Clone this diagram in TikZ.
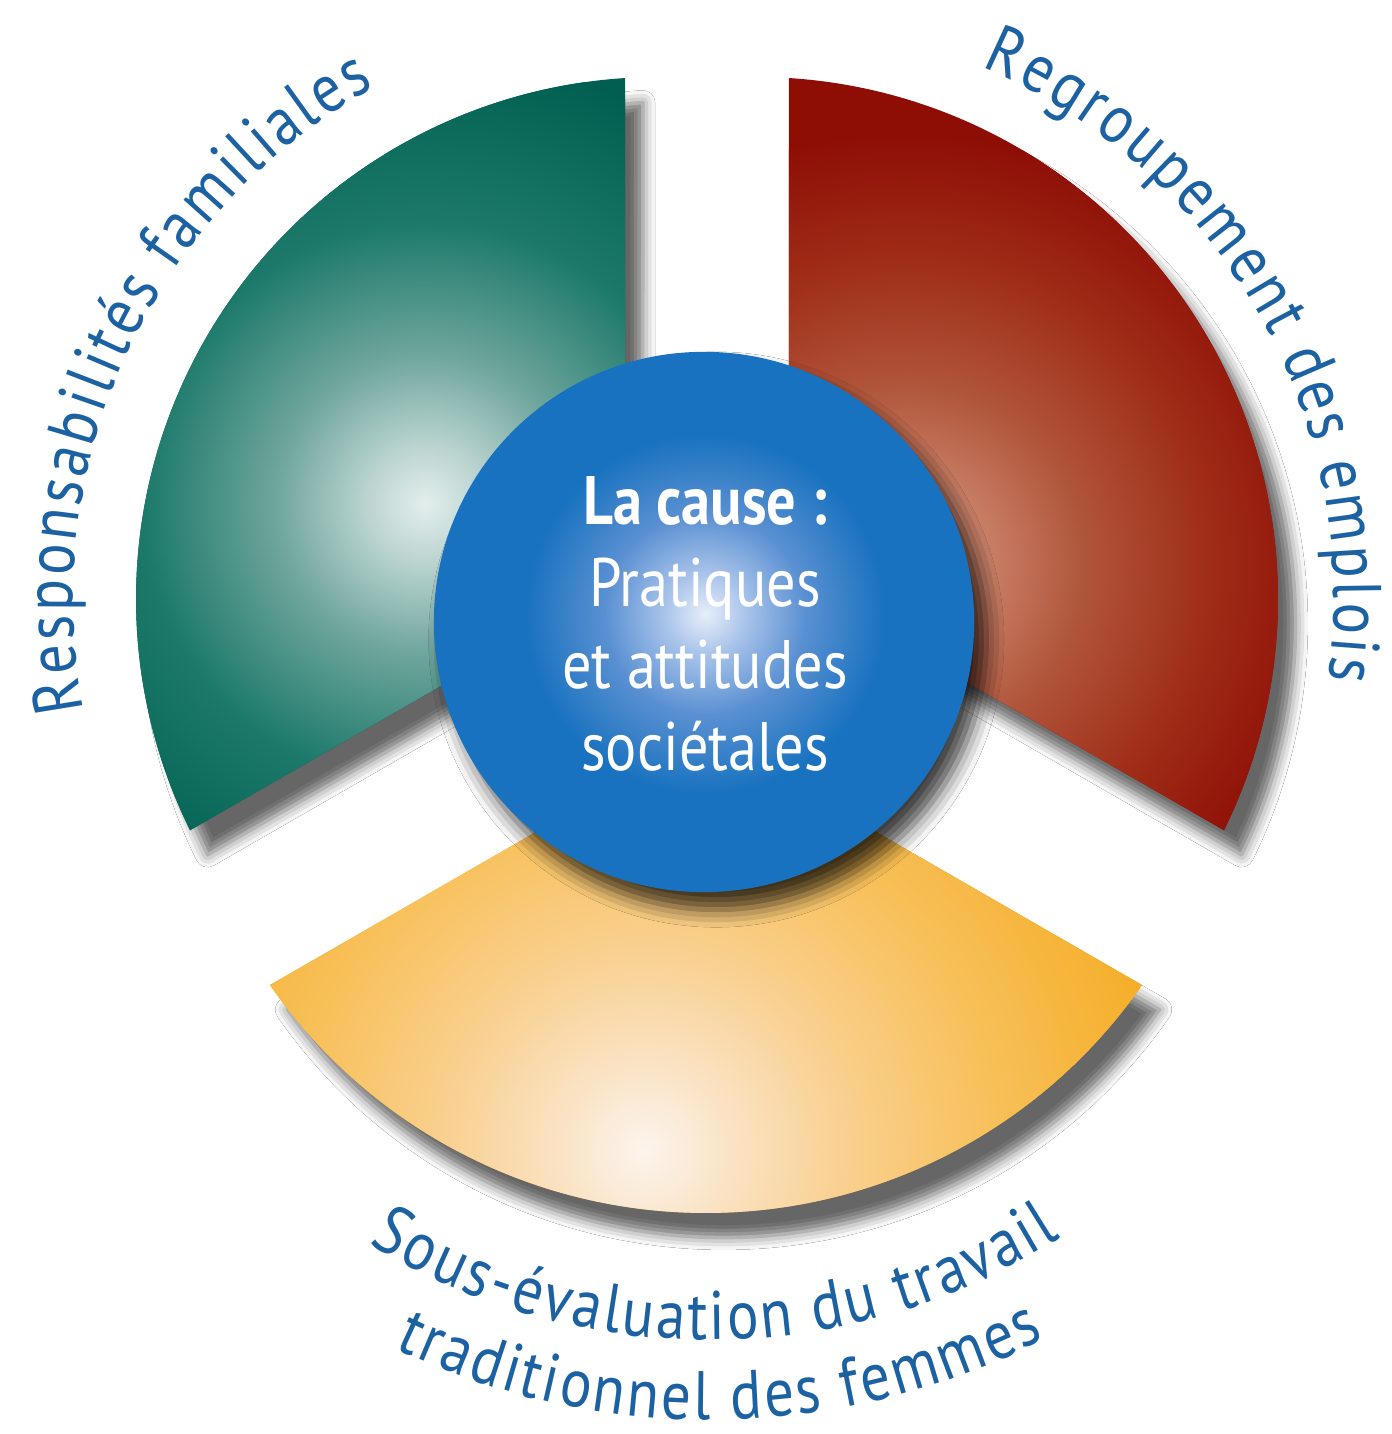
\documentclass[tikz,border=0pt]{standalone}
\usepackage{fontspec}
\usetikzlibrary{decorations.text,shadows.blur}
\newfontfamily\labelfont[FakeStretch=0.86]{PT Sans}
\newfontfamily\causefont[FakeStretch=0.85]{PT Sans}

\definecolor{labelblue}{RGB}{28,98,162}
\definecolor{gLight}{RGB}{227,238,236}
\definecolor{gPale}{RGB}{185,211,207}
\definecolor{gMid}{RGB}{110,165,156}
\definecolor{gDeep}{RGB}{29,122,107}
\definecolor{gDark}{RGB}{0,95,80}
\definecolor{rLight}{RGB}{219,167,146}
\definecolor{rPale}{RGB}{201,128,104}
\definecolor{rMid}{RGB}{176,85,58}
\definecolor{rDeep}{RGB}{160,46,24}
\definecolor{rDark}{RGB}{142,14,6}
\definecolor{yLight}{RGB}{252,244,238}
\definecolor{yPale}{RGB}{250,226,194}
\definecolor{yMid}{RGB}{249,208,144}
\definecolor{yDeep}{RGB}{248,194,96}
\definecolor{yDark}{RGB}{245,174,40}
\definecolor{bLight}{RGB}{232,238,250}
\definecolor{bPale}{RGB}{169,196,234}
\definecolor{bMid}{RGB}{90,144,210}
\definecolor{bBase}{RGB}{24,114,191}

% 50bp = reach of the glow
\pgfdeclareradialshading{greenglow}{\pgfpointorigin}{color(0bp)=(gLight); color(6.7bp)=(gPale); color(16.7bp)=(gMid); color(31.1bp)=(gDeep); color(50bp)=(gDark)}
\pgfdeclareradialshading{redglow}{\pgfpointorigin}{color(0bp)=(rLight); color(9.3bp)=(rPale); color(20.9bp)=(rMid); color(34.9bp)=(rDeep); color(50bp)=(rDark)}
\pgfdeclareradialshading{yellowglow}{\pgfpointorigin}{color(0bp)=(yLight); color(8.7bp)=(yPale); color(19.2bp)=(yMid); color(31.7bp)=(yDeep); color(50bp)=(yDark)}
\pgfdeclareradialshading{blueglow}{\pgfpointorigin}{color(0bp)=(bLight); color(11.1bp)=(bPale); color(27.8bp)=(bMid); color(50bp)=(bBase)}

% glow {shading}{x}{y}{reach in px}
\def\glow#1#2#3#4{\pgftransformshift{\pgfpointxy{#2}{#3}}\pgfmathsetmacro\glowscale{#4*0.0056693}\pgftransformscale{\glowscale}\pgftext{\pgfuseshading{#1}}}

\def\labelsize{\labelfont\fontsize{19.5pt}{23pt}\selectfont}

\begin{document}
\begin{tikzpicture}[x=0.01cm, y=0.01cm]
    \tikzstyle{sector}=[blur shadow={shadow xshift=5pt, shadow yshift=-7pt, shadow blur radius=3.5pt, shadow opacity=60}]
    \tikzstyle{hubdisc}=[circle, minimum size=5.4cm, inner sep=0pt, fill=bBase, blur shadow={shadow xshift=3.5pt, shadow yshift=-5pt, shadow blur radius=5pt, shadow opacity=75}]
    \tikzstyle{causetext}=[text=white, align=center, inner sep=0pt, font=\causefont\fontsize{19.5pt}{23.3pt}\selectfont]
    \tikzstyle{arclabel}=[decorate, decoration={text along path, text align={fit to path}, text color=labelblue}]

    \useasboundingbox (0,0) rectangle (1392,1434);
    \fill[white] (0,0) rectangle (1392,1434);

    \coordinate (gc) at (658,835);
    \coordinate (rc) at (756,835);
    \coordinate (yc) at (706,752);
    \coordinate (tc) at (710,744);

    % three segments
    \path[sector, fill=gDark, path picture={\glow{greenglow}{425}{930}{450}}]
        (gc) ++(93.6:522) arc[start angle=93.6, end angle=206.3, radius=522] -- (625,854) -- cycle;
    \path[sector, fill=rDark, path picture={\glow{redglow}{905}{870}{430}}]
        (rc) ++(86.4:522) arc[start angle=86.4, end angle=-26.3, radius=522] -- (789,854) -- cycle;
    \path[sector, fill=yDark, path picture={\glow{yellowglow}{645}{284}{520}}]
        (yc) ++(214.8:531) arc[start angle=214.8, end angle=325.2, radius=531] -- (706,700) -- cycle;

    % centre
    \node[hubdisc, path picture={\pgftransformshift{\pgfpointanchor{path picture bounding box}{center}}\glow{blueglow}{1}{8}{180}}] (hub) at (704,812) {};
    \node[causetext] (cause) at (705,810) {\textbf{La cause :}\\Pratiques\\et attitudes\\sociétales};

    % labels
    \path[arclabel, decoration={text={|\labelsize|Responsabilités familiales}}]
        (gc) ++(191:585) arc[start angle=191, end angle=119, radius=585];
    \path[arclabel, decoration={text={|\labelsize|Regroupement des emplois}}]
        (rc) ++(67:578) arc[start angle=67, end angle=-8, radius=578];
    \path[arclabel, decoration={text={|\labelsize|Sous-évaluation du travail}}]
        (tc) ++(238.3:650) arc[start angle=238.3, end angle=302.6, radius=650];
    \path[arclabel, decoration={text={|\labelsize|traditionnel des femmes}}]
        (tc) ++(244.4:730) arc[start angle=244.4, end angle=297.3, radius=730];
\end{tikzpicture}
\end{document}
